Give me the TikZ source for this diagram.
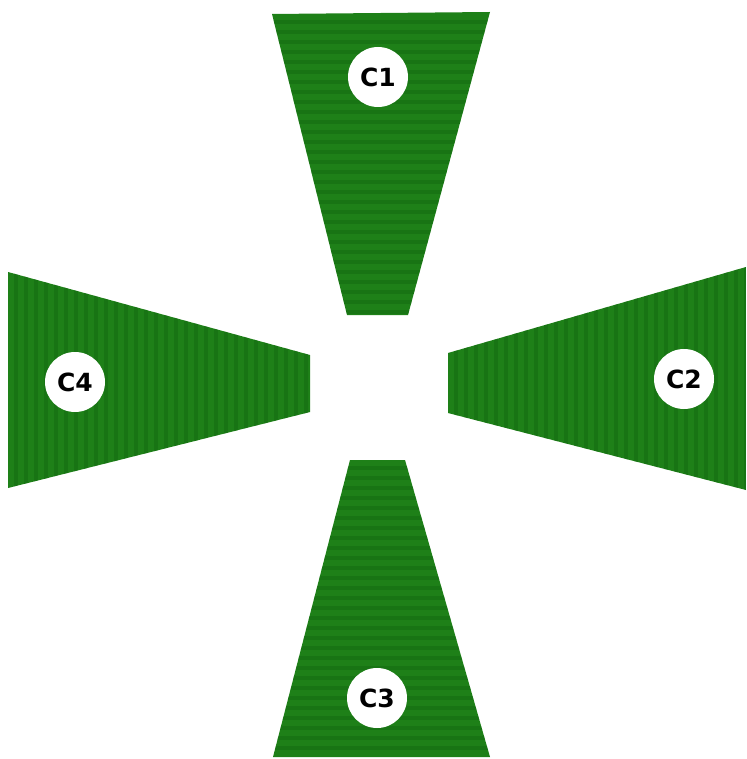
\documentclass[tikz,border=0pt]{standalone}
\usepackage{fontspec}
\setmainfont{DejaVu Sans}
\definecolor{cLeaf}{RGB}{30,128,24}
\definecolor{cRib}{RGB}{16,98,14}
\tikzset{
  petal/.style={fill=cLeaf},
  rib/.style={draw=cRib,line width=4pt,opacity=0.4},
  badge/.style={circle,fill=white,minimum size=60pt,inner sep=0pt,
                font=\fontsize{25}{25}\selectfont\bfseries}
}
\begin{document}
\begin{tikzpicture}[x=1pt,y=-1pt]
  \useasboundingbox (0,0) rectangle (746,759);

  % top
  \begin{scope}
    \clip (272,14) -- (490,12) -- (408,315) -- (347,315) -- cycle;
    \fill[petal] (260,0) rectangle (500,320);
    \foreach \y in {22,32,...,315}
      \draw[rib] (260,\y) -- (500,\y);
  \end{scope}

  % bottom
  \begin{scope}
    \clip (350,460) -- (405,460) -- (490,757) -- (273,757) -- cycle;
    \fill[petal] (260,455) rectangle (500,759);
    \foreach \y in {468,478,...,757}
      \draw[rib] (260,\y) -- (500,\y);
  \end{scope}

  % left
  \begin{scope}
    \clip (8,272) -- (310,355) -- (310,412) -- (8,488) -- cycle;
    \fill[petal] (0,265) rectangle (315,495);
    \foreach \x in {16,26,...,310}
      \draw[rib] (\x,265) -- (\x,495);
  \end{scope}

  % right
  \begin{scope}
    \clip (448,353) -- (746,267) -- (746,490) -- (448,413) -- cycle;
    \fill[petal] (440,260) rectangle (746,495);
    \foreach \x in {456,466,...,746}
      \draw[rib] (\x,260) -- (\x,495);
  \end{scope}

  \node[badge] (c1) at (378,77) {C1};
  \node[badge] (c2) at (684,379) {C2};
  \node[badge] (c3) at (377,698) {C3};
  \node[badge] (c4) at (75,382) {C4};

\end{tikzpicture}
\end{document}
